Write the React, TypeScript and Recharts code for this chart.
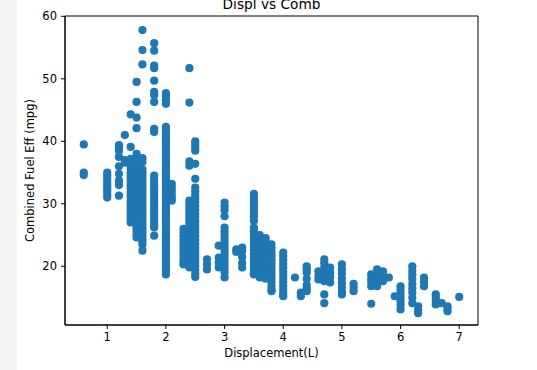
import React from "react";
import {
  ScatterChart,
  Scatter,
  XAxis,
  YAxis,
  ReferenceArea,
  Label,
} from "recharts";

// Displacement (L) values on the x axis
const displacements: number[] = [
  0.6, 1.0, 1.2, 1.3, 1.4, 1.5, 1.6, 1.8, 2.0, 2.1, 2.3, 2.4, 2.5, 2.7, 2.9,
  3.0, 3.2, 3.3, 3.5, 3.6, 3.7, 3.8, 4.0, 4.2, 4.3, 4.4, 4.6, 4.7, 4.8, 5.0,
  5.2, 5.5, 5.6, 5.7, 5.8, 5.9, 6.0, 6.2, 6.3, 6.4, 6.6, 6.7, 6.8, 7.0,
];

// Combined fuel efficiency (mpg) readings, one list per displacement
const mpgByDisplacement: number[][] = [
  [39.5, 35.0, 34.6],
  [31.0, 31.5, 32.0, 32.5, 33.0, 33.5, 34.0, 34.5, 35.0],
  [31.3, 33.0, 33.7, 34.8, 36.0, 37.5, 38.5, 39.0, 39.4],
  [41.0, 37.0, 36.6],
  [44.3, 39.1, 37.2, 36.7, 36.0, 35.5, 35.0, 34.5, 34.0, 33.5, 33.0, 32.5, 32.0, 31.5, 31.0, 30.5, 30.0, 29.5, 29.0, 28.5, 28.0, 27.5, 27.0],
  [49.5, 46.3, 43.8, 42.1, 38.0, 37.0, 36.5, 36.0, 35.5, 35.0, 34.5, 34.0, 33.5, 33.0, 32.5, 32.0, 31.5, 31.0, 30.5, 30.0, 29.5, 29.0, 28.5, 28.0, 27.5, 27.0, 26.5, 26.0, 25.5, 25.0, 24.6],
  [57.8, 54.6, 52.3, 37.3, 36.7, 35.5, 35.0, 34.5, 34.0, 33.5, 33.0, 32.5, 32.0, 31.5, 31.0, 30.5, 30.0, 29.5, 29.0, 28.5, 28.0, 27.5, 27.0, 26.5, 26.0, 25.5, 25.0, 24.5, 24.0, 23.5, 22.5],
  [55.7, 54.5, 52.1, 51.7, 49.7, 47.9, 47.4, 46.3, 42.0, 41.5, 34.5, 34.0, 33.5, 33.0, 32.5, 32.0, 31.5, 31.0, 30.5, 30.0, 29.5, 29.0, 28.5, 28.0, 27.5, 27.0, 26.5, 26.2, 24.9],
  [47.7, 47.2, 46.6, 46.0, 42.3, 41.8, 41.3, 40.8, 40.3, 39.8, 39.3, 38.8, 38.3, 37.8, 37.3, 36.8, 36.3, 35.8, 35.3, 34.8, 34.3, 33.8, 33.3, 32.8, 32.3, 31.8, 31.3, 30.8, 30.3, 29.8, 29.3, 28.8, 28.3, 27.8, 27.3, 26.8, 26.3, 25.8, 25.3, 24.8, 24.3, 23.8, 23.3, 22.8, 22.3, 21.8, 21.3, 20.8, 20.3, 19.8, 19.3, 18.7],
  [33.2, 32.6, 32.0, 31.4, 30.8, 30.5],
  [26.0, 25.4, 24.8, 24.2, 23.6, 23.0, 22.4, 21.8, 21.2, 20.6, 20.3],
  [51.7, 46.2, 36.8, 36.1, 30.5, 29.9, 29.3, 28.7, 28.1, 27.5, 26.9, 26.3, 25.7, 25.1, 24.5, 23.9, 23.3, 22.7, 22.1, 21.5, 20.9, 20.3, 19.8],
  [40.0, 39.5, 39.0, 38.5, 36.4, 34.0, 32.6, 32.0, 31.4, 30.8, 30.2, 29.6, 29.0, 28.4, 27.8, 27.2, 26.6, 26.0, 25.4, 24.8, 24.2, 23.6, 23.0, 22.4, 21.8, 21.2, 20.6, 20.0, 19.4, 18.8, 18.3],
  [21.1, 20.3, 19.5],
  [23.3, 21.4, 20.6, 19.8],
  [30.2, 29.6, 29.0, 28.0, 26.2, 25.6, 25.0, 24.4, 23.8, 23.2, 22.6, 22.0, 21.4, 20.8, 20.2, 19.6, 19.0, 18.2],
  [22.7, 22.3],
  [23.0, 22.5, 21.5, 20.5, 19.8],
  [31.6, 31.0, 30.4, 29.8, 29.2, 28.6, 28.0, 27.3, 26.2, 25.6, 25.0, 24.4, 23.8, 23.2, 22.6, 22.0, 21.4, 20.8, 20.2, 19.6, 19.0, 18.7],
  [25.0, 24.4, 23.8, 23.2, 22.6, 22.0, 21.4, 20.8, 20.2, 19.6, 19.0, 18.2],
  [24.5, 23.9, 23.3, 22.7, 22.1, 21.5, 20.9, 20.3, 19.7, 19.1, 18.5, 18.0],
  [23.5, 22.9, 22.3, 21.7, 21.1, 20.5, 19.9, 19.3, 18.7, 18.1, 17.5, 16.9, 16.3, 16.0],
  [22.2, 21.6, 21.0, 20.4, 19.8, 19.2, 18.6, 18.0, 17.4, 16.8, 16.2, 15.6, 15.2],
  [18.2],
  [15.8, 15.2],
  [20.0, 19.5, 19.0, 18.0, 17.0, 16.5, 16.0],
  [19.2, 18.5, 17.9],
  [21.1, 20.5, 19.8, 19.0, 18.3, 17.6, 15.5, 14.1],
  [19.8, 19.0, 18.3, 17.4],
  [20.3, 19.5, 18.8, 18.0, 17.3, 16.6, 15.9, 15.5],
  [17.2, 16.6, 16.0],
  [18.7, 18.0, 17.5, 16.8, 14.0],
  [19.5, 19.0, 18.3, 17.6, 16.8],
  [19.2, 18.5, 17.6],
  [18.2],
  [15.2],
  [16.8, 16.2, 15.6, 15.0, 14.4, 13.8, 13.1],
  [20.0, 19.3, 18.6, 18.0, 17.2, 16.5, 15.8, 15.0, 14.1],
  [13.6, 13.0, 12.5],
  [18.2, 17.5, 16.8],
  [15.5, 15.0, 14.4, 13.9],
  [14.1],
  [13.6, 13.2, 12.8],
  [15.1],
];

const xTicks: number[] = [1, 2, 3, 4, 5, 6, 7];
const yTicks: number[] = [20, 30, 40, 50, 60];

const points = displacements.flatMap((d, i) =>
  mpgByDisplacement[i].map((m) => ({ x: d, y: m }))
);

const FONT = "DejaVu Sans";
const X_DOMAIN: [number, number] = [0.28, 7.32];
const Y_DOMAIN: [number, number] = [10.6, 60.05];

const Dot = (props: any) => (
  <circle cx={props.cx} cy={props.cy} r={4.1} fill="#1f77b4" />
);

export default function App() {
  return (
    <div
      style={{
        position: "absolute",
        left: 0,
        top: 0,
        width: 537,
        height: 370,
        background: "#fff",
        overflow: "hidden",
      }}
    >
      <div
        style={{
          position: "absolute",
          left: 0,
          top: 0,
          width: 17,
          height: 370,
          background: "#f5f5f5",
        }}
      />
      <div style={{ position: "absolute", left: 0, top: 0 }}>
        <ScatterChart
          width={537}
          height={370}
          margin={{ top: 16, right: 59, bottom: 0, left: 0 }}
        >
          <text
            x={271.5}
            y={9}
            textAnchor="middle"
            fontFamily={FONT}
            fontSize={13.7}
            fill="#000"
          >
            Displ vs Comb
          </text>
          <XAxis
            type="number"
            dataKey="x"
            domain={X_DOMAIN}
            ticks={xTicks}
            allowDataOverflow
            height={45}
            stroke="#000"
            tickSize={4}
            tickMargin={4}
            tick={{ fill: "#000", fontSize: 11.5, fontFamily: FONT }}
          >
            <Label
              value="Displacement(L)"
              position="insideBottom"
              offset={13}
              style={{ fill: "#000", fontSize: 11.5, fontFamily: FONT }}
            />
          </XAxis>
          <YAxis
            type="number"
            dataKey="y"
            domain={Y_DOMAIN}
            ticks={yTicks}
            allowDataOverflow
            width={65}
            stroke="#000"
            tickSize={4}
            tickMargin={4}
            tick={{ fill: "#000", fontSize: 11.5, fontFamily: FONT }}
          >
            <Label
              value="Combined Fuel Eff (mpg)"
              angle={-90}
              position="insideLeft"
              offset={30}
              style={{
                fill: "#000",
                fontSize: 11.5,
                fontFamily: FONT,
                textAnchor: "middle",
              }}
            />
          </YAxis>
          <ReferenceArea
            x1={X_DOMAIN[0]}
            x2={X_DOMAIN[1]}
            y1={Y_DOMAIN[0]}
            y2={Y_DOMAIN[1]}
            fill="none"
            fillOpacity={0}
            stroke="#000"
            strokeWidth={1}
          />
          <Scatter
            data={points}
            shape={Dot}
            isAnimationActive={false}
          />
        </ScatterChart>
      </div>
    </div>
  );
}
